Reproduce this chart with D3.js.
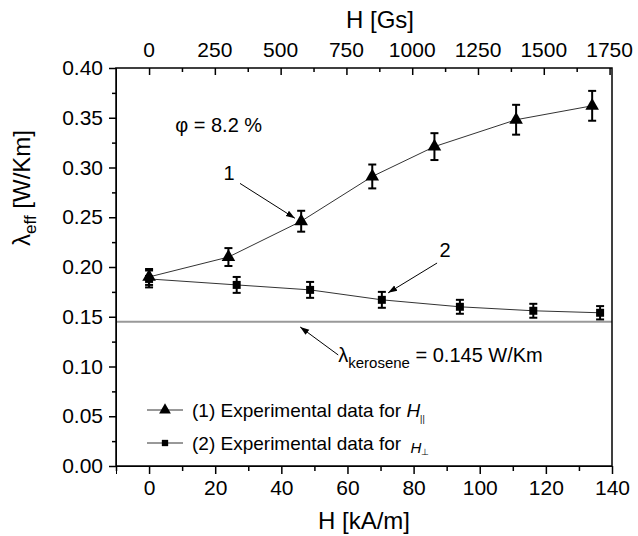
<!DOCTYPE html>
<html><head><meta charset="utf-8">
<script src="https://cdn.jsdelivr.net/npm/d3@7"></script>
<style>
body{margin:0;background:#fff;}
text{font-family:"Liberation Sans",Arial,sans-serif;fill:#000;}
</style></head>
<body><svg id="c" width="638" height="536"></svg>
<script>
// Data (x in kA/m, y in W/Km)
const xPar  = [0, 24, 46, 67.5, 86.3, 111, 134];
const yPar  = [0.190, 0.210, 0.246, 0.291, 0.321, 0.348, 0.362];
const ePar  = [0.008, 0.009, 0.0105, 0.012, 0.0135, 0.015, 0.015];
const xPerp = [0, 26.5, 48.7, 70.4, 94, 116.2, 136.4];
const yPerp = [0.188, 0.182, 0.177, 0.167, 0.160, 0.156, 0.154];
const ePerp = [0.0085, 0.008, 0.008, 0.008, 0.007, 0.007, 0.0067];
const kerosene = 0.145;
const bottomTicks = [0, 20, 40, 60, 80, 100, 120, 140];
const topTicks = [0, 250, 500, 750, 1000, 1250, 1500, 1750];
const leftTicks = [0, 0.05, 0.10, 0.15, 0.20, 0.25, 0.30, 0.35, 0.40];
const GS_PER_KAM = 12.566;

const svg = d3.select("#c");
const L = 116, R = 612, T = 68, B = 466;
const x = d3.scaleLinear().domain([-10, 140]).range([L, R]);
const xTop = d3.scaleLinear().domain([-10 * GS_PER_KAM, 140 * GS_PER_KAM]).range([L, R]);
const y = d3.scaleLinear().domain([0, 0.40]).range([B, T]);

svg.append("defs").append("marker").attr("id", "ah")
  .attr("viewBox", "0 0 10 10").attr("refX", 10).attr("refY", 5)
  .attr("markerWidth", 9).attr("markerHeight", 9).attr("markerUnits", "userSpaceOnUse")
  .attr("orient", "auto")
  .append("path").attr("d", "M0,1.5L10,5L0,8.5Z").attr("fill", "#000");

// kerosene line
svg.append("line").attr("x1", L).attr("x2", R).attr("y1", y(kerosene)).attr("y2", y(kerosene))
  .attr("stroke", "#999").attr("stroke-width", 2);

// bottom axis
const minorB = d3.range(-10, 141, 10).filter(v => !bottomTicks.includes(v));
svg.append("g").attr("transform", `translate(0,${B})`)
  .call(d3.axisBottom(x).tickValues(minorB).tickSize(5).tickFormat(""))
  .call(g => g.select(".domain").remove());
const gb = svg.append("g").attr("transform", `translate(0,${B})`)
  .call(d3.axisBottom(x).tickValues(bottomTicks).tickSize(8).tickPadding(6).tickFormat(d3.format("d")));
gb.selectAll("text").attr("font-size", 21).attr("font-family", "Liberation Sans");

// left axis
const minorL = d3.range(0.025, 0.40, 0.05);
svg.append("g").attr("transform", `translate(${L},0)`)
  .call(d3.axisLeft(y).tickValues(minorL).tickSize(4).tickFormat(""))
  .call(g => g.select(".domain").remove());
const gl = svg.append("g").attr("transform", `translate(${L},0)`)
  .call(d3.axisLeft(y).tickValues(leftTicks).tickSize(7).tickPadding(6).tickFormat(d3.format(".2f")));
gl.selectAll("text").attr("font-size", 21).attr("font-family", "Liberation Sans");

// top axis (ticks inward)
const minorT = d3.range(125, 1760, 250);
svg.append("g").attr("transform", `translate(0,${T})`)
  .call(d3.axisBottom(xTop).tickValues(minorT).tickSize(4).tickFormat(""))
  .call(g => g.select(".domain").remove());
svg.append("g").attr("transform", `translate(0,${T})`)
  .call(d3.axisBottom(xTop).tickValues(topTicks).tickSize(7).tickFormat(""))
  .call(g => g.select(".domain").remove());
topTicks.forEach(v => {
  svg.append("text").attr("x", xTop(v)).attr("y", T - 11).attr("text-anchor", "middle")
    .attr("font-size", 21).text(v);
});

// frame
svg.append("rect").attr("x", L).attr("y", T).attr("width", R - L).attr("height", B - T)
  .attr("fill", "none").attr("stroke", "#000").attr("stroke-width", 1.5);
svg.selectAll(".tick line").attr("stroke-width", 1.5);

// axis titles
svg.append("text").attr("x", x(65)).attr("y", 529).attr("text-anchor", "middle").attr("font-size", 24).text("H [kA/m]");
svg.append("text").attr("x", 380).attr("y", 28).attr("text-anchor", "middle").attr("font-size", 24).text("H [Gs]");
const yt = svg.append("text").attr("transform", "translate(30,188) rotate(-90)").attr("text-anchor", "middle").attr("font-size", 24);
yt.append("tspan").text("λ");
yt.append("tspan").attr("font-size", 17).attr("dy", 6).text("eff");
yt.append("tspan").attr("dy", -6).text(" [W/Km]");

// series
const parData = xPar.map((v, i) => ({x: v, y: yPar[i], e: ePar[i]}));
const perpData = xPerp.map((v, i) => ({x: v, y: yPerp[i], e: ePerp[i]}));
const line = d3.line().x(d => x(d.x)).y(d => y(d.y));

function drawSeries(data, symbolType, size) {
  svg.append("path").datum(data).attr("d", line).attr("fill", "none").attr("stroke", "#333").attr("stroke-width", 1);
  const g = svg.append("g");
  data.forEach(d => {
    const cx = x(d.x), y1 = y(d.y + d.e), y2 = y(d.y - d.e);
    g.append("line").attr("x1", cx).attr("x2", cx).attr("y1", y1).attr("y2", y2).attr("stroke", "#000").attr("stroke-width", 2);
    g.append("line").attr("x1", cx - 4).attr("x2", cx + 4).attr("y1", y1).attr("y2", y1).attr("stroke", "#000").attr("stroke-width", 2);
    g.append("line").attr("x1", cx - 4).attr("x2", cx + 4).attr("y1", y2).attr("y2", y2).attr("stroke", "#000").attr("stroke-width", 2);
    g.append("path").attr("transform", `translate(${cx},${y(d.y)})`)
      .attr("d", d3.symbol().type(symbolType).size(size)()).attr("fill", "#000");
  });
}
drawSeries(perpData, d3.symbolSquare, 64);
drawSeries(parData, d3.symbolTriangle, 80);

// annotations
svg.append("text").attr("x", x(7.9)).attr("y", y(0.343) + 7).attr("font-size", 20).text("φ = 8.2 %");
svg.append("text").attr("x", x(24.2)).attr("y", y(0.2945) + 7).attr("text-anchor", "middle").attr("font-size", 20).text("1");
svg.append("text").attr("x", x(89.5)).attr("y", y(0.217) + 7).attr("text-anchor", "middle").attr("font-size", 20).text("2");
function arrow(x1, y1, x2, y2) {
  svg.append("line").attr("x1", x(x1)).attr("y1", y(y1)).attr("x2", x(x2)).attr("y2", y(y2))
    .attr("stroke", "#000").attr("stroke-width", 1).attr("marker-end", "url(#ah)");
}
arrow(27.5, 0.284, 44.1, 0.249);
arrow(87.1, 0.204, 72.3, 0.174);
arrow(57.2, 0.1116, 45.7, 0.1397);
const kt = svg.append("text").attr("x", x(57.2)).attr("y", y(0.1045)).attr("font-size", 20);
kt.append("tspan").text("λ");
kt.append("tspan").attr("font-size", 15).attr("dy", 6).text("kerosene");
kt.append("tspan").attr("dy", -6).text(" = 0.145 W/Km");

// legend
function legendRow(yy, symbolType, size, label, sub, subSmallH) {
  svg.append("line").attr("x1", 147).attr("x2", 183).attr("y1", yy).attr("y2", yy).attr("stroke", "#333").attr("stroke-width", 1);
  svg.append("path").attr("transform", `translate(165,${yy})`).attr("d", d3.symbol().type(symbolType).size(size)()).attr("fill", "#000");
  const t = svg.append("text").attr("x", 192).attr("y", yy + 7).attr("font-size", 19);
  t.append("tspan").text(label);
  const h = t.append("tspan").attr("font-style", "italic").text("H");
  if (subSmallH) h.attr("font-size", 15).attr("dy", 3).attr("dx", 4);
  t.append("tspan").attr("font-size", 9).attr("dy", subSmallH ? 2 : 5).text(sub);
}
legendRow(410, d3.symbolTriangle, 60, "(1) Experimental data for ", "||", false);
legendRow(443, d3.symbolSquare, 40, "(2) Experimental data for ", "⊥", true);
</script></body></html>
